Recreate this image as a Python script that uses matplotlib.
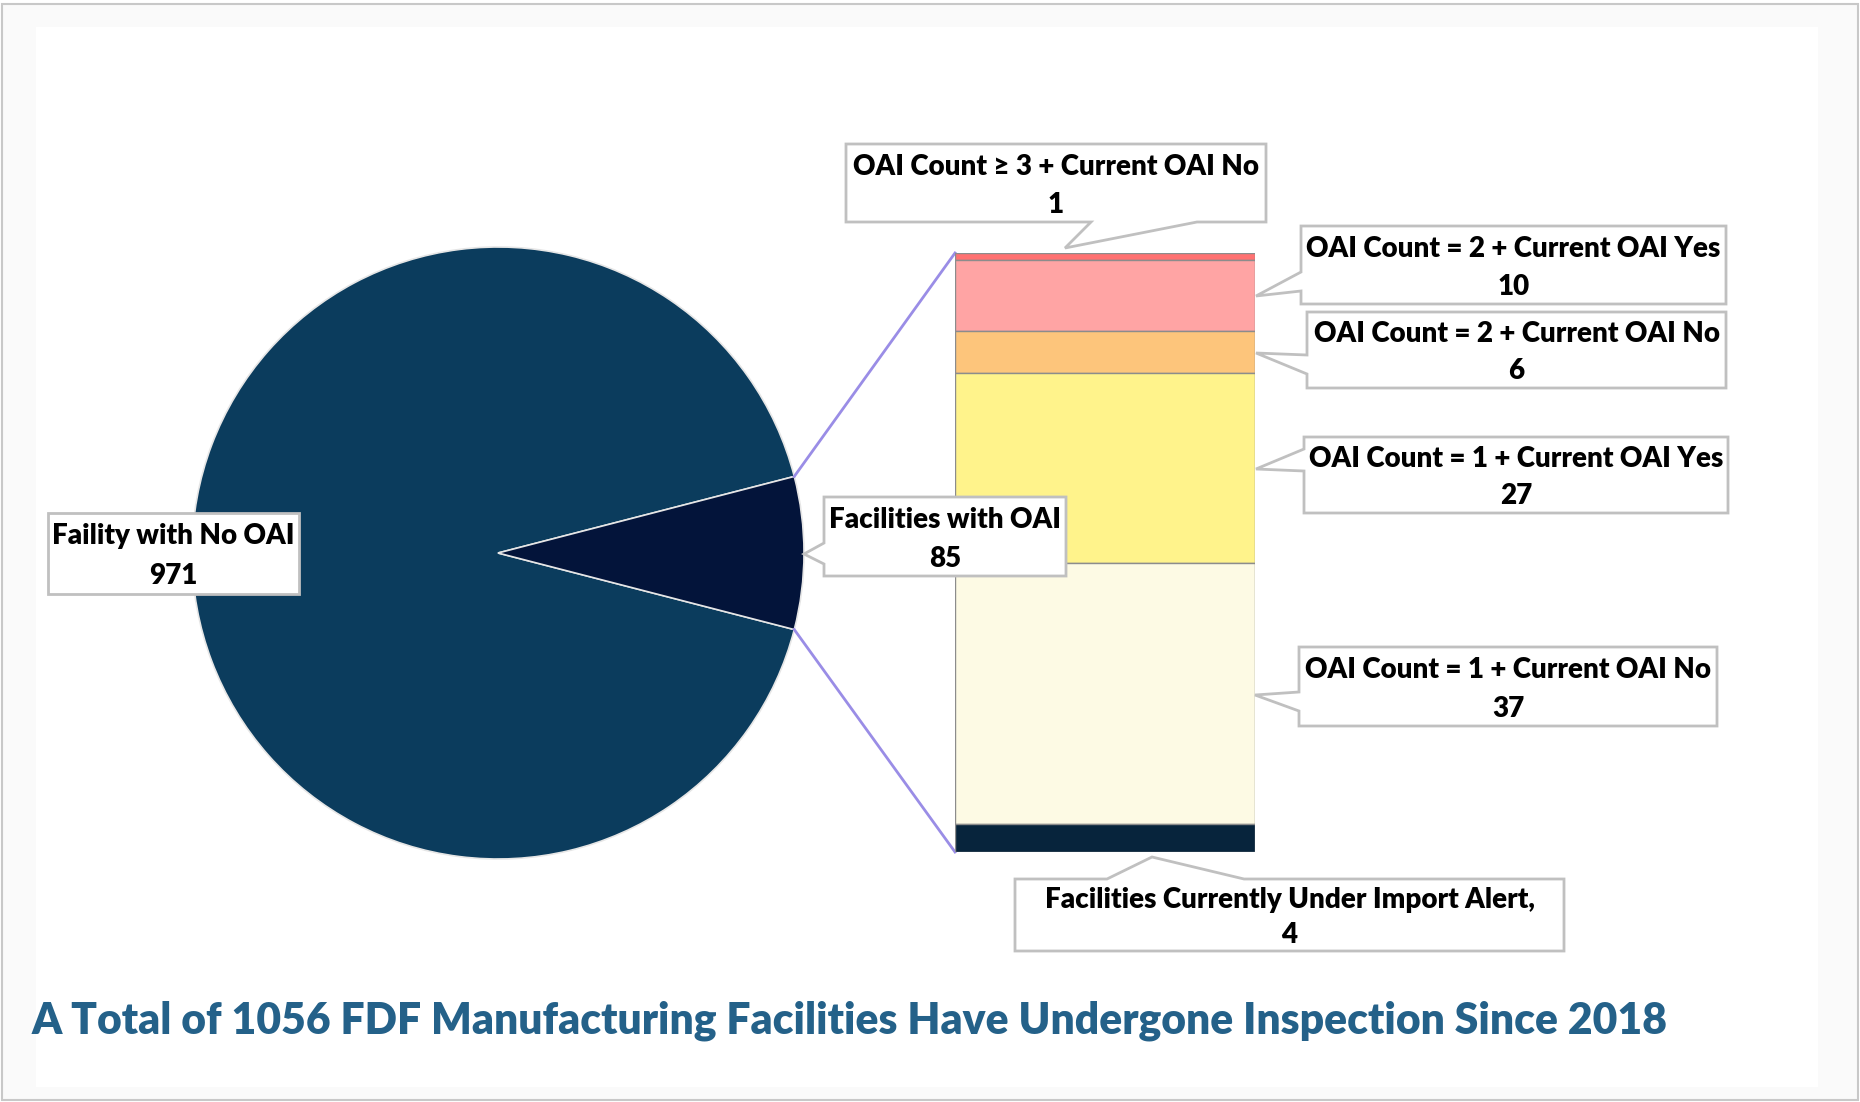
import numpy as np
import matplotlib.pyplot as plt
from matplotlib.patches import Polygon, Rectangle

# data
pie_labels = ['Faility with No OAI', 'Facilities with OAI']
pie_values = [971, 85]
pie_colors = ['#0b3c5d', '#03143a']

bar_labels = ['OAI Count \u2265 3 + Current OAI No', 'OAI Count = 2 + Current OAI Yes',
              'OAI Count = 2 + Current OAI No', 'OAI Count = 1 + Current OAI Yes',
              'OAI Count = 1 + Current OAI No', 'Facilities Currently Under Import Alert,']
bar_values = [1, 10, 6, 27, 37, 4]
bar_colors = ['#ff7171', '#ffa4a4', '#fdc57b', '#fff38b', '#fdfae4', '#07243c']

title = 'A Total of 1056 FDF Manufacturing Facilities Have Undergone Inspection Since 2018'

W, H = 1860, 1102
FONT = ['Lato', 'DejaVu Sans']
plt.rcParams['font.family'] = FONT

fig = plt.figure(figsize=(W / 100, H / 100), dpi=100)
fig.patch.set_facecolor('white')

ax = fig.add_axes([0, 0, 1, 1])

# pie
total = sum(pie_values)
half = pie_values[1] / total * 180
center, radius = (498, 553), 306
wedges, _ = ax.pie(pie_values, colors=pie_colors, startangle=half, center=center,
                   radius=radius, wedgeprops=dict(edgecolor='#e6e6e6', linewidth=1.2))
ax.set_xlim(0, W)
ax.set_ylim(H, 0)
ax.set_aspect('auto')
ax.axis('off')

# background frame
ax.add_patch(Rectangle((2, 4), W - 4, H - 6, facecolor='#fafafa', edgecolor='#c8c8c8',
                       lw=1.5, zorder=-3))
ax.add_patch(Rectangle((36, 27), 1782, 1060, facecolor='white', edgecolor='none', zorder=-2))

# stacked bar
bx0, by0, bx1, by1 = 955, 253, 1255, 852
axb = fig.add_axes([bx0 / W, 1 - by1 / H, (bx1 - bx0) / W, (by1 - by0) / H])
bottoms = np.concatenate([[0], np.cumsum(bar_values)[:-1]])
for v, b, c in zip(bar_values, bottoms, bar_colors):
    axb.bar(0, v, bottom=b, width=1, color=c, edgecolor='#8c8c8c', linewidth=1.0)
axb.set_xlim(-0.5, 0.5)
axb.set_ylim(sum(bar_values), 0)
axb.axis('off')

# connectors from wedge edges to bar corners
w = wedges[1]
for ang, corner in [(w.theta1, (bx0, by0)), (w.theta2, (bx0, by1))]:
    px = center[0] + radius * np.cos(np.radians(ang))
    py = center[1] + radius * np.sin(np.radians(ang))
    ax.plot([px, corner[0]], [py, corner[1]], color='#9a8de6', lw=2)

# overlay for callouts
axt = fig.add_axes([0, 0, 1, 1])
axt.set_xlim(0, W)
axt.set_ylim(H, 0)
axt.axis('off')
axt.patch.set_alpha(0)


def callout(box, lines, ptr=None, fs=20):
    x0, y0, x1, y1 = box
    pts = [(x0, y0)]
    if ptr and ptr[0] == 'top':
        _, a, b, tip = ptr
        pts += [(a, y0), tip, (b, y0)]
    pts += [(x1, y0), (x1, y1)]
    if ptr and ptr[0] == 'bottom':
        _, a, b, tip = ptr
        pts += [(b, y1), tip, (a, y1)]
    pts += [(x0, y1)]
    if ptr and ptr[0] == 'left':
        _, a, b, tip = ptr
        pts += [(x0, b), tip, (x0, a)]
    axt.add_patch(Polygon(pts, closed=True, facecolor='white', edgecolor='#c0c0c0', lw=2))
    cx = (x0 + x1) / 2
    hh = y1 - y0
    axt.text(cx, y0 + hh * 0.29, lines[0], ha='center', va='center', fontsize=fs,
             fontweight='heavy', color='black')
    axt.text(cx, y0 + hh * 0.78, lines[1], ha='center', va='center', fontsize=fs,
             fontweight='heavy', color='black')


callout((48, 513, 299, 594), [pie_labels[0], str(pie_values[0])])
callout((824, 497, 1066, 576), [pie_labels[1], str(pie_values[1])],
        ('left', 543, 564, (804, 554)))

bar_boxes = [(846, 144, 1266, 222), (1301, 226, 1726, 304), (1307, 312, 1726, 388),
             (1304, 437, 1728, 513), (1299, 647, 1717, 726), (1015, 879, 1564, 951)]
bar_ptrs = [('bottom', 1091, 1197, (1065, 248)), ('left', 272, 291, (1256, 296)),
            ('left', 355, 374, (1256, 353)), ('left', 449, 471, (1256, 469)),
            ('left', 692, 711, (1255, 695)), ('top', 1107, 1244, (1152, 857))]
for lab, v, bx, p in zip(bar_labels, bar_values, bar_boxes, bar_ptrs):
    callout(bx, [lab, str(v)], p)

axt.text(32, 1021, title, ha='left', va='center', fontsize=30.7, fontweight='heavy',
         color='#246189')

fig.savefig('out.png', dpi=100)
